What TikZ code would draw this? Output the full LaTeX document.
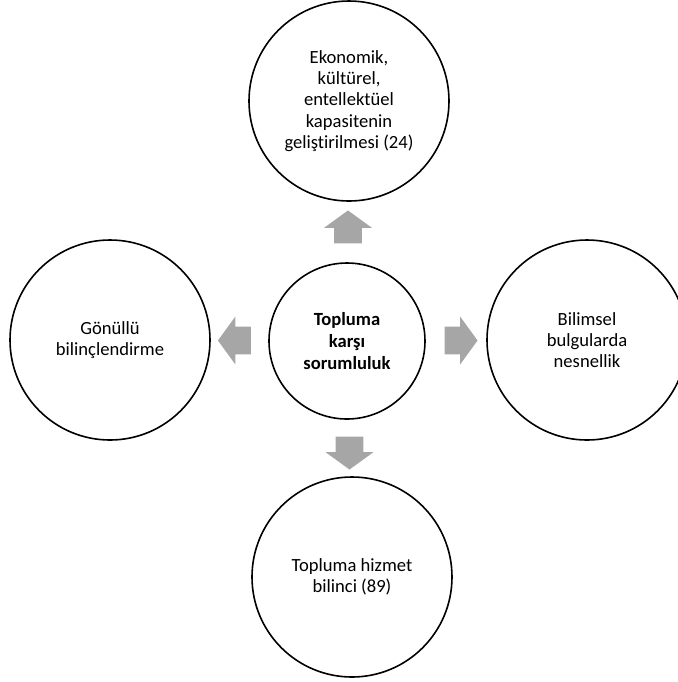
\documentclass[tikz,border=0pt]{standalone}
\usepackage{fontspec}
\setmainfont[Ligatures={NoCommon,NoContextual}]{Carlito}
\usetikzlibrary{shapes.arrows,calc}
\definecolor{arrowgray}{RGB}{166,166,166}

\begin{document}
\begin{tikzpicture}[x=0.5pt,y=-0.5pt,
	topic/.style={circle,draw,line width=0.8pt,minimum size=100pt,inner sep=0pt,align=center,font=\fontsize{9.3}{10.6}\selectfont},
	hub/.style={topic,minimum size=78pt,font=\fontsize{9.3}{11}\selectfont\bfseries},
	blockarrow/.style={single arrow,fill=arrowgray,draw=none,inner xsep=0pt,inner ysep=6.75pt,minimum height=16.5pt,minimum width=23.5pt,single arrow head extend=5pt,single arrow tip angle=108}]
	\useasboundingbox (0,0) rectangle (677,682);

	\node[hub] (hub) at (347,341) {Topluma\\karşı\\sorumluluk};
	\node[topic] (up) at (349,101) {Ekonomik,\\kültürel,\\entellektüel\\kapasitenin\\geliştirilmesi (24)};
	\node[topic] (left) at (110,340) {Gönüllü\\bilinçlendirme};
	\node[topic] (right) at (587,340) {Bilimsel\\bulgularda\\nesnellik};
	\node[topic] (down) at (352,577) {Topluma hizmet\\bilinci (89)};

	% arrows between the hub and the outer circles
	\node[blockarrow,rotate=90] (arrup) at ($(hub.north)!0.5!(up.south)$) {};
	\node[blockarrow,rotate=180] (arrleft) at ($(hub.west)!0.5!(left.east)$) {};
	\node[blockarrow] (arrright) at ($(hub.east)!0.5!(right.west)$) {};
	\node[blockarrow,rotate=-90] (arrdown) at ($(hub.south)!0.5!(down.north)$) {};
\end{tikzpicture}
\end{document}
